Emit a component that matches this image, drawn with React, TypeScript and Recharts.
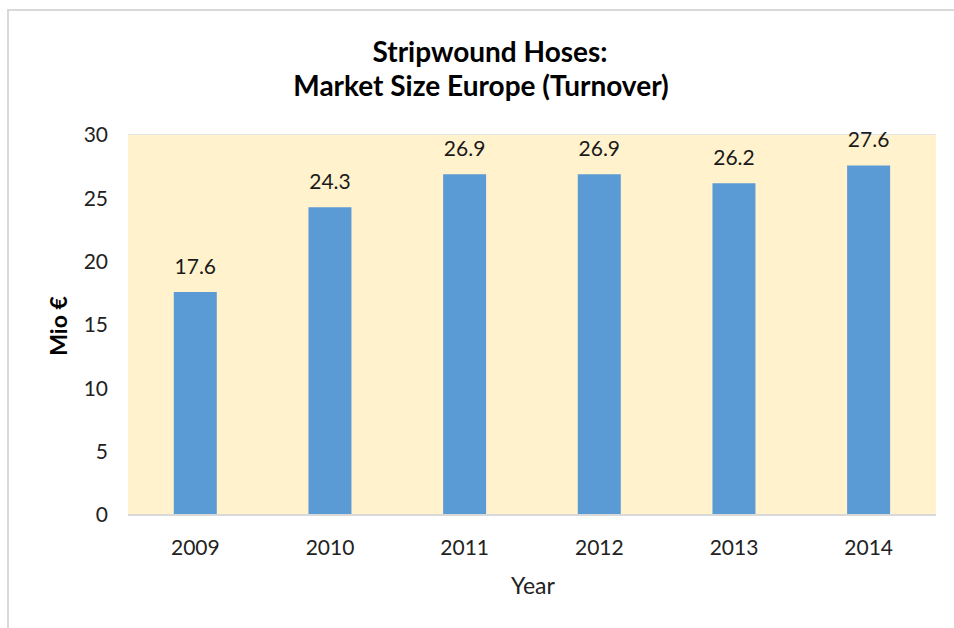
import { BarChart, Bar, XAxis, YAxis, CartesianGrid, LabelList } from 'recharts';

const years = ['2009', '2010', '2011', '2012', '2013', '2014'];
const turnover = [17.6, 24.3, 26.9, 26.9, 26.2, 27.6];
const yTicks = [0, 5, 10, 15, 20, 25, 30];

const data = years.map((year, i) => ({ year, turnover: turnover[i] }));

const FONT = 'Lato, "Open Sans", sans-serif';

export default function App() {
  return (
    <div style={{ position: 'absolute', left: 0, top: 0, width: 954, height: 628, background: '#fff', fontFamily: FONT, overflow: 'hidden' }}>
      <div
        style={{
          position: 'absolute',
          left: 7,
          top: 9,
          width: 960,
          height: 640,
          borderTop: '2px solid #d9d9d9',
          borderLeft: '2px solid #d9d9d9',
        }}
      />
      <div style={{ position: 'absolute', left: 0, top: 0 }}>
        <BarChart
          width={954}
          height={628}
          data={data}
          margin={{ top: 135, right: 18, bottom: 83, left: 68 }}
          barCategoryGap="34%"
        >
          <rect x={128} y={135} width={808} height={380} fill="#fff2cc" />
          <CartesianGrid vertical={false} stroke="#d9d9d9" strokeWidth={1.5} />
          <XAxis
            dataKey="year"
            height={30}
            tickLine={false}
            tickSize={0}
            tickMargin={25}
            axisLine={{ stroke: '#d9d9d9', strokeWidth: 2 }}
            tick={{ fontSize: 21, fill: '#222', fontFamily: FONT }}
          />
          <YAxis
            width={60}
            domain={[0, 30]}
            ticks={yTicks}
            tickLine={false}
            axisLine={false}
            tickSize={0}
            tickMargin={20}
            tick={{ fontSize: 21, fill: '#222', fontFamily: FONT }}
          />
          <Bar dataKey="turnover" fill="#5b9bd5" isAnimationActive={false}>
            <LabelList dataKey="turnover" position="top" offset={18} fill="#1a1a1a" fontSize={21} fontFamily={FONT} formatter={(v: number) => v.toFixed(1)} />
          </Bar>
          <text x={490} y={62} textAnchor="middle" fontSize={28} fontWeight="bold" fill="#000" fontFamily={FONT}>
            Stripwound Hoses:
          </text>
          <text x={481} y={96} textAnchor="middle" fontSize={28} fontWeight="bold" fill="#000" fontFamily={FONT}>
            Market Size Europe (Turnover)
          </text>
          <text
            x={67}
            y={326}
            textAnchor="middle"
            fontSize={23}
            fontWeight="bold"
            fill="#000"
            fontFamily={FONT}
            transform="rotate(-90 67 326)"
          >
            Mio €
          </text>
          <text x={533} y={594} textAnchor="middle" fontSize={23} fill="#222" fontFamily={FONT}>
            Year
          </text>
        </BarChart>
      </div>
    </div>
  );
}
